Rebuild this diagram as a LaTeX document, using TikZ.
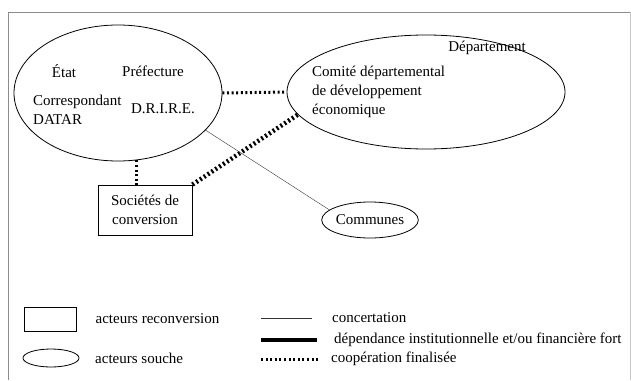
\documentclass[tikz,border=0pt]{standalone}
\usepackage{fontspec}
\setmainfont{Liberation Serif}
\usetikzlibrary{shapes.geometric,positioning,calc}
\definecolor{framegrey}{gray}{0.55}

\begin{document}
\begin{tikzpicture}[x=1pt,y=-1pt,node distance=5mm and 5mm]

\tikzset{souche/.style={draw,thick,shape=ellipse,inner sep=0pt},
reconv/.style={draw,thick,shape=rectangle,inner sep=0pt,align=center},
txt/.style={font=\fontsize{15}{19}\selectfont,inner sep=0pt,align=left},
concert/.style={thin,black!80},
coop/.style={line width=3pt,dash pattern=on 2pt off 2.6pt},
coopfort/.style={line width=4.5pt,dash pattern=on 2pt off 2.6pt},
depend/.style={line width=3.5pt}}

\useasboundingbox (0,0) rectangle (631,380);

% Frame
\draw[framegrey] (8,380) -- (8,12) -- (630,12);
\draw[framegrey!50] (630,12) -- (630,380);

% Actors
\node[souche,minimum width=208pt,minimum height=136pt] (etat) at (118,93) {};
\node[txt] (tEtat) at (64,71) {État};
\node[txt] (tPref) at (153,71) {Préfecture};
\node[txt,anchor=west] (tCorr) at (33,110) {Correspondant\\DATAR};
\node[txt] (tDrire) at (163,109) {D.R.I.R.E.};

\node[souche,minimum width=278pt,minimum height=114pt] (dept) at (426,92) {};
\node[txt] (tDept) at (487,48) {Département};
\node[txt,anchor=west] (tComite) at (312,92) {Comité départemental\\de développement\\économique};

\node[souche,minimum width=84pt,minimum height=36pt,txt] (communes) at (370,220) {Communes};
\node[reconv,minimum width=94pt,minimum height=50pt,txt,align=center] (soc) at (145,210) {Sociétés de\\conversion};

% Edges
\draw[coop] (etat.east) -- (dept.west);
\draw[coop] (etat.-75) -- (etat.-75 |- soc.north);
\draw[coopfort] (soc.north east) -- (dept.190);
\draw[concert] (etat.-23.7) -- (communes.166);

% Legend
\node[reconv,minimum width=52pt,minimum height=24pt] (legRect) at (50,319) {};
\node[souche,minimum width=56pt,minimum height=18pt] (legEll) at (51,358) {};
\node[txt,right=19pt of legRect] (tReconv) {acteurs reconversion};
\node[txt,anchor=west] (tSouche) at (95,358) {acteurs souche};

\coordinate (lA1) at (261,318); \coordinate (lA2) at (312,318);
\coordinate (lB1) at (261,340); \coordinate (lB2) at (317,340);
\coordinate (lC1) at (261,359); \coordinate (lC2) at (320,359);
\draw[concert] (lA1) -- (lA2);
\draw[depend] (lB1) -- (lB2);
\draw[coop] (lC1) -- (lC2);
\node[txt,anchor=west] (tConcert) at (332,318) {concertation};
\node[txt,anchor=west] (tDepend) at (334,340) {dépendance institutionnelle et/ou financière fort};
\node[txt,anchor=west] (tCoop) at (331,359) {coopération finalisée};

\end{tikzpicture}
\end{document}
